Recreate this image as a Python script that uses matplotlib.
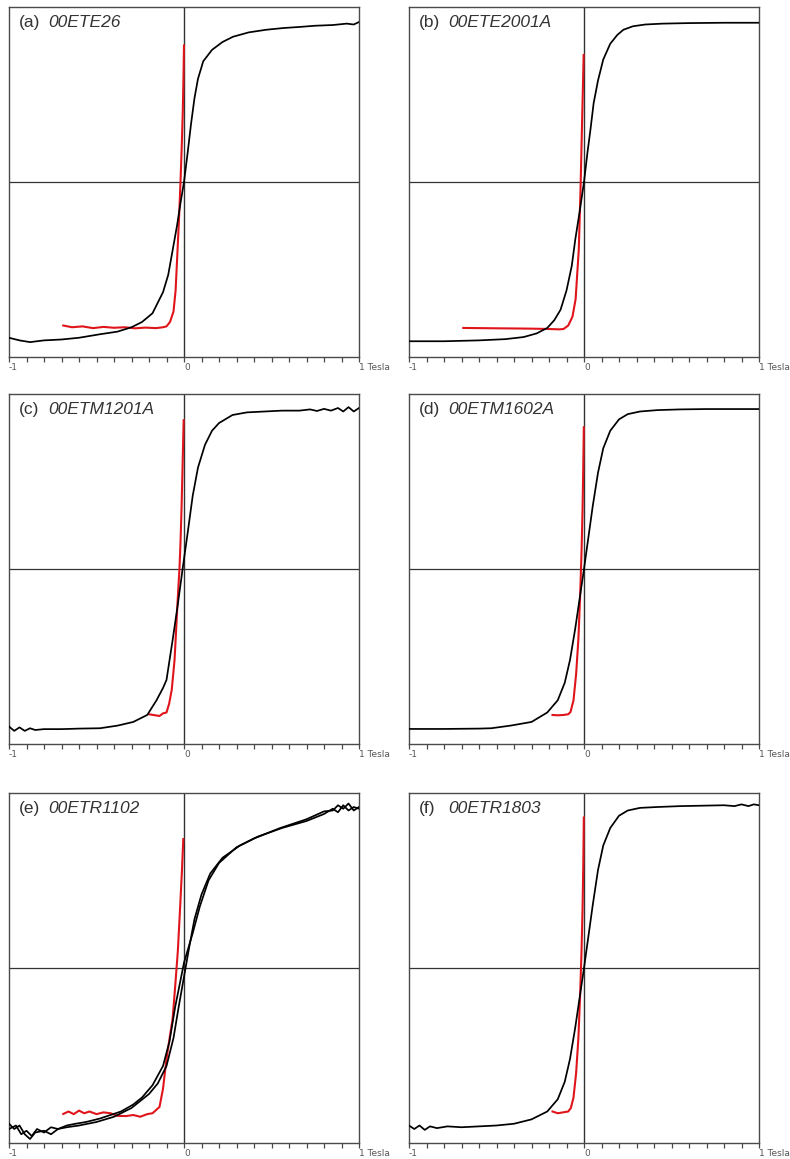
import matplotlib
matplotlib.use("Agg")
import matplotlib.pyplot as plt
import numpy as np

# ---- (a) 00ETE26 ----
a_black_x = [-1.00, -0.94, -0.88, -0.80, -0.70, -0.60, -0.48, -0.38, -0.30, -0.24, -0.18, -0.12, -0.09,
             -0.065, -0.04, -0.02, 0.00, 0.02, 0.04, 0.06, 0.08, 0.11, 0.16, 0.22, 0.28, 0.37, 0.47,
             0.57, 0.66, 0.75, 0.85, 0.93, 0.97, 1.00]
a_black_y = [-0.89, -0.905, -0.915, -0.905, -0.90, -0.89, -0.87, -0.855, -0.83, -0.80, -0.75, -0.63, -0.53,
             -0.39, -0.25, -0.12, 0.00, 0.16, 0.33, 0.48, 0.59, 0.69, 0.755, 0.80, 0.83, 0.855, 0.87,
             0.88, 0.886, 0.893, 0.897, 0.905, 0.90, 0.914]
a_red_x = [-0.69, -0.64, -0.58, -0.52, -0.46, -0.40, -0.34, -0.28, -0.22, -0.16, -0.12, -0.10, -0.08,
           -0.06, -0.048, -0.037, -0.028, -0.02, -0.013, -0.007, -0.003, 0.0]
a_red_y = [-0.82, -0.83, -0.825, -0.835, -0.828, -0.833, -0.83, -0.836, -0.832, -0.835, -0.83, -0.825, -0.80,
           -0.74, -0.62, -0.39, -0.2, 0.0, 0.2, 0.4, 0.6, 0.78]

# ---- (b) 00ETE2001A ----
b_black_x = [-1.0, -0.8, -0.6, -0.45, -0.345, -0.27, -0.21, -0.17, -0.134, -0.10, -0.07, -0.05, -0.025,
             0.0, 0.02, 0.037, 0.055, 0.08, 0.11, 0.15, 0.19, 0.225, 0.28, 0.35, 0.45, 0.6, 0.8, 1.0]
b_black_y = [-0.91, -0.91, -0.905, -0.898, -0.886, -0.865, -0.834, -0.79, -0.73, -0.62, -0.48, -0.33, -0.17,
             0.0, 0.17, 0.30, 0.45, 0.58, 0.70, 0.79, 0.84, 0.87, 0.89, 0.90, 0.905, 0.908, 0.91, 0.91]
b_red_x = [-0.69, -0.5, -0.3, -0.2, -0.14, -0.117, -0.09, -0.066, -0.048, -0.03, -0.02, -0.012, -0.006, -0.002]
b_red_y = [-0.834, -0.836, -0.838, -0.84, -0.842, -0.84, -0.82, -0.77, -0.67, -0.39, -0.05, 0.3, 0.55, 0.726]

# ---- (c) 00ETM1201A ----
c_black_x = [-1.0, -0.97, -0.94, -0.91, -0.88, -0.85, -0.8, -0.7, -0.6, -0.48, -0.38, -0.29, -0.21, -0.157,
             -0.12, -0.1, -0.065, -0.035, -0.008, 0.02, 0.05, 0.08, 0.12, 0.16, 0.2, 0.277, 0.36, 0.46,
             0.56, 0.66, 0.72, 0.76, 0.80, 0.84, 0.88, 0.91, 0.94, 0.97, 1.0]
c_black_y = [-0.90, -0.925, -0.905, -0.925, -0.91, -0.92, -0.915, -0.915, -0.912, -0.91, -0.895, -0.874,
             -0.834, -0.75, -0.68, -0.634, -0.406, -0.2, 0.0, 0.2, 0.42, 0.58, 0.71, 0.79, 0.834, 0.88,
             0.895, 0.90, 0.905, 0.905, 0.912, 0.903, 0.915, 0.905, 0.92, 0.90, 0.925, 0.90, 0.92]
c_red_x = [-0.2, -0.17, -0.14, -0.12, -0.1, -0.085, -0.07, -0.054, -0.048, -0.04, -0.033, -0.026, -0.02,
           -0.014, -0.009, -0.005, -0.002]
c_red_y = [-0.83, -0.835, -0.84, -0.825, -0.82, -0.77, -0.69, -0.52, -0.406, -0.25, -0.12, 0.0, 0.15,
           0.35, 0.55, 0.72, 0.85]

# ---- (d) 00ETM1602A ----
d_black_x = [-1.0, -0.8, -0.6, -0.53, -0.42, -0.3, -0.21, -0.15, -0.11, -0.08, -0.05, -0.025, 0.0, 0.025,
             0.05, 0.08, 0.11, 0.15, 0.2, 0.25, 0.32, 0.42, 0.55, 0.7, 0.85, 1.0]
d_black_y = [-0.914, -0.914, -0.912, -0.91, -0.895, -0.874, -0.82, -0.75, -0.65, -0.52, -0.34, -0.17, 0.0,
             0.18, 0.36, 0.55, 0.69, 0.79, 0.855, 0.885, 0.90, 0.908, 0.912, 0.914, 0.914, 0.914]
d_red_x = [-0.18, -0.15, -0.117, -0.09, -0.077, -0.06, -0.045, -0.032, -0.022, -0.014, -0.008, -0.004, -0.001]
d_red_y = [-0.834, -0.836, -0.834, -0.83, -0.817, -0.75, -0.6, -0.4, -0.15, 0.1, 0.35, 0.6, 0.81]

# ---- (e) 00ETR1102: two loop branches ----
e_upper_x = [1.0, 0.97, 0.94, 0.91, 0.88, 0.85, 0.8, 0.7, 0.55, 0.4, 0.3, 0.2, 0.14, 0.09, 0.05, 0.0,
             -0.026, -0.05, -0.083, -0.12, -0.18, -0.24, -0.29, -0.36, -0.42, -0.48, -0.56, -0.62, -0.67,
             -0.72, -0.76, -0.8, -0.84, -0.87, -0.9, -0.93, -0.96, -1.0]
e_upper_y = [0.92, 0.90, 0.94, 0.91, 0.93, 0.90, 0.895, 0.85, 0.80, 0.74, 0.69, 0.60, 0.50, 0.35, 0.2, 0.03,
             -0.10, -0.22, -0.42, -0.56, -0.67, -0.74, -0.78, -0.82, -0.84, -0.86, -0.88, -0.89, -0.90,
             -0.92, -0.91, -0.94, -0.92, -0.96, -0.93, -0.95, -0.90, -0.92]
e_lower_x = [-1.0, -0.97, -0.94, -0.91, -0.88, -0.85, -0.8, -0.76, -0.72, -0.67, -0.6, -0.5, -0.4, -0.3,
             -0.2, -0.15, -0.1, -0.06, -0.03, 0.0, 0.03, 0.06, 0.1, 0.15, 0.22, 0.32, 0.42, 0.56, 0.7,
             0.8, 0.85, 0.88, 0.91, 0.94, 0.97, 1.0]
e_lower_y = [-0.89, -0.92, -0.90, -0.95, -0.977, -0.94, -0.93, -0.95, -0.92, -0.91, -0.90, -0.88, -0.85,
             -0.80, -0.72, -0.66, -0.56, -0.40, -0.22, -0.05, 0.12, 0.28, 0.42, 0.54, 0.63, 0.70, 0.75,
             0.80, 0.84, 0.88, 0.91, 0.89, 0.93, 0.90, 0.92, 0.91]
e_red_x = [-0.69, -0.66, -0.63, -0.6, -0.57, -0.54, -0.5, -0.46, -0.42, -0.38, -0.33, -0.29, -0.25, -0.21,
           -0.18, -0.14, -0.12, -0.1, -0.083, -0.065, -0.05, -0.035, -0.022, -0.012, -0.004]
e_red_y = [-0.834, -0.82, -0.835, -0.815, -0.83, -0.82, -0.835, -0.825, -0.83, -0.845, -0.846, -0.84, -0.85,
           -0.835, -0.83, -0.794, -0.69, -0.52, -0.406, -0.29, -0.1, 0.1, 0.35, 0.55, 0.737]

# ---- (f) 00ETR1803 ----
f_black_x = [-1.0, -0.97, -0.94, -0.91, -0.88, -0.84, -0.78, -0.7, -0.6, -0.5, -0.4, -0.3, -0.21, -0.15,
             -0.11, -0.08, -0.05, -0.025, 0.0, 0.025, 0.05, 0.08, 0.11, 0.15, 0.2, 0.25, 0.32, 0.42,
             0.55, 0.7, 0.8, 0.86, 0.9, 0.94, 0.97, 1.0]
f_black_y = [-0.90, -0.92, -0.90, -0.925, -0.905, -0.915, -0.905, -0.91, -0.905, -0.90, -0.89, -0.865, -0.82,
             -0.75, -0.65, -0.52, -0.34, -0.17, 0.0, 0.18, 0.36, 0.56, 0.70, 0.80, 0.87, 0.90, 0.915, 0.92,
             0.925, 0.928, 0.93, 0.925, 0.935, 0.925, 0.935, 0.93]
f_red_x = [-0.18, -0.15, -0.12, -0.09, -0.075, -0.06, -0.045, -0.032, -0.022, -0.014, -0.008, -0.004, -0.001]
f_red_y = [-0.82, -0.83, -0.825, -0.82, -0.80, -0.74, -0.6, -0.4, -0.15, 0.1, 0.35, 0.6, 0.86]

panel_tags = ["(a)", "(b)", "(c)", "(d)", "(e)", "(f)"]
sample_names = ["00ETE26", "00ETE2001A", "00ETM1201A", "00ETM1602A", "00ETR1102", "00ETR1803"]
x_tick_labels = ["-1", "0", "1 Tesla"]

black_curves = [
    [(a_black_x, a_black_y)],
    [(b_black_x, b_black_y)],
    [(c_black_x, c_black_y)],
    [(d_black_x, d_black_y)],
    [(e_upper_x, e_upper_y), (e_lower_x, e_lower_y)],
    [(f_black_x, f_black_y)],
]
red_curves = [(a_red_x, a_red_y), (b_red_x, b_red_y), (c_red_x, c_red_y),
              (d_red_x, d_red_y), (e_red_x, e_red_y), (f_red_x, f_red_y)]

W, H = 790, 1159
fig = plt.figure(figsize=(W / 100, H / 100), dpi=100)
fig.patch.set_facecolor("white")

col_left = [9, 409]
row_top = [7, 394, 793]
box_w, box_h = 350, 350

frame_col = "#4a4a4a"
for i in range(6):
    r, c = divmod(i, 2)
    left = col_left[c] / W
    bottom = 1 - (row_top[r] + box_h) / H
    ax = fig.add_axes([left, bottom, box_w / W, box_h / H])
    ax.set_xlim(-1, 1)
    ax.set_ylim(-1, 1)

    for s in ax.spines.values():
        s.set_color(frame_col)
        s.set_linewidth(1.0)

    ax.axhline(0, color="#333333", lw=0.9, zorder=1)
    ax.axvline(0, color="#333333", lw=1.0, zorder=1)

    for bx, by in black_curves[i]:
        ax.plot(bx, by, color="black", lw=1.25, zorder=3, solid_joinstyle="round")
    rx, ry = red_curves[i]
    ax.plot(rx, ry, color="#e0151b", lw=1.5, zorder=2, solid_joinstyle="round")

    ax.set_yticks([])
    ax.set_xticks([-1, 0, 1])
    ax.set_xticklabels(x_tick_labels)
    ax.set_xticks(np.linspace(-1, 1, 21), minor=True)
    ax.tick_params(axis="x", which="both", direction="out", length=3.6, width=0.9,
                   color=frame_col, labelsize=6.5, labelcolor="#555555", pad=0.5)
    for lbl in ax.get_xticklabels():
        lbl.set_ha("left")

    ax.text(0.027, 0.957, panel_tags[i], transform=ax.transAxes, fontsize=12.5,
            family="Liberation Sans", color="#333333", va="center", ha="left")
    ax.text(0.112, 0.957, sample_names[i], transform=ax.transAxes, fontsize=12.5,
            family="Liberation Sans", style="italic", color="#333333", va="center", ha="left")

fig.savefig("out.png", dpi=100, facecolor="white")
